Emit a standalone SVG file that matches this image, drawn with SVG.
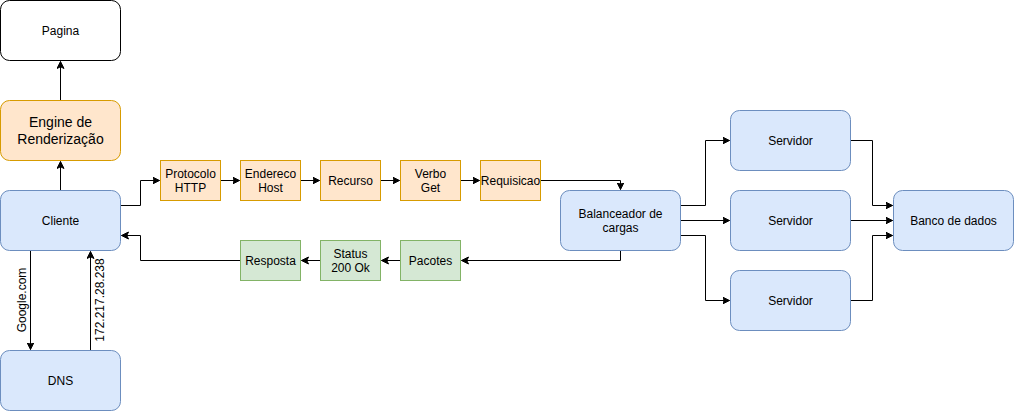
<svg xmlns="http://www.w3.org/2000/svg" width="1014" height="411" viewBox="0 0 1014 411">
<defs>
<marker id="arr" markerWidth="10" markerHeight="10" refX="7" refY="4" orient="auto" markerUnits="userSpaceOnUse">
<path d="M0,0.5 L7,4 L0,7.5 L1.75,4 Z" fill="#000" stroke="#000" stroke-width="1"/>
</marker>
<style>
text{font-family:"Liberation Sans",Arial,sans-serif;font-size:12px;fill:#000;text-anchor:middle;dominant-baseline:central}
.blue{fill:#dae8fc;stroke:#6c8ebf;stroke-width:1}
.orange{fill:#ffe6cc;stroke:#d79b00;stroke-width:1}
.green{fill:#d5e8d4;stroke:#82b366;stroke-width:1}
.white{fill:#fff;stroke:#000;stroke-width:1}
.edge{fill:none;stroke:#000;stroke-width:1;marker-end:url(#arr)}
</style>
</defs>
<rect width="1014" height="411" fill="#fff"/>
<g id="connectors">
<path class="edge" d="M60.5,190.5 L60.5,161.5"/>
<path class="edge" d="M60.5,100.5 L60.5,61.5"/>
<path class="edge" d="M120.5,205.5 L140.5,205.5 L140.5,180.5 L159.5,180.5"/>
<path class="edge" d="M220.5,180.5 L239.5,180.5"/>
<path class="edge" d="M300.5,180.5 L319.5,180.5"/>
<path class="edge" d="M380.5,180.5 L399.5,180.5"/>
<path class="edge" d="M460.5,180.5 L479.5,180.5"/>
<path class="edge" d="M540.5,180.5 L620.5,180.5 L620.5,189.5"/>
<path class="edge" d="M620.5,250.5 L620.5,260.5 L461.5,260.5"/>
<path class="edge" d="M400.5,260.5 L381.5,260.5"/>
<path class="edge" d="M320.5,260.5 L301.5,260.5"/>
<path class="edge" d="M240.5,260.5 L140.5,260.5 L140.5,235.5 L121.5,235.5"/>
<path class="edge" d="M30.5,250.5 L30.5,349.5"/>
<path class="edge" d="M90.5,350.5 L90.5,251.5"/>
<path class="edge" d="M680.5,205.5 L705.5,205.5 L705.5,140.5 L729.5,140.5"/>
<path class="edge" d="M680.5,220.5 L729.5,220.5"/>
<path class="edge" d="M680.5,235.5 L705.5,235.5 L705.5,300.5 L729.5,300.5"/>
<path class="edge" d="M850.5,140.5 L872.5,140.5 L872.5,205.5 L892.5,205.5"/>
<path class="edge" d="M850.5,220.5 L892.5,220.5"/>
<path class="edge" d="M850.5,300.5 L872.5,300.5 L872.5,235.5 L892.5,235.5"/>
<text x="22" y="300" transform="rotate(-90 22 300)">Google.com</text>
<text x="100" y="300" transform="rotate(-90 100 300)">172.217.28.238</text>
</g>
<g id="pagina"><rect class="white" x="0.5" y="0.5" width="120" height="60" rx="9"/><text x="60.5" y="30.5">Pagina</text></g>
<g id="engine"><rect class="orange" x="0.5" y="100.5" width="120" height="60" rx="9"/><text x="60.5" y="122" style="font-size:14px">Engine de</text><text x="60.5" y="139" style="font-size:14px">Renderização</text></g>
<g id="cliente"><rect class="blue" x="0.5" y="190.5" width="120" height="60" rx="9"/><text x="60.5" y="220.5">Cliente</text></g>
<g id="dns"><rect class="blue" x="0.5" y="350.5" width="120" height="60" rx="9"/><text x="60.5" y="380.5">DNS</text></g>
<g id="protocolo"><rect class="orange" x="160.5" y="160.5" width="60" height="40"/><text x="190.5" y="173.5">Protocolo</text><text x="190.5" y="187.5">HTTP</text></g>
<g id="endereco"><rect class="orange" x="240.5" y="160.5" width="60" height="40"/><text x="270.5" y="173.5">Endereco</text><text x="270.5" y="187.5">Host</text></g>
<g id="recurso"><rect class="orange" x="320.5" y="160.5" width="60" height="40"/><text x="350.5" y="180.5">Recurso</text></g>
<g id="verbo"><rect class="orange" x="400.5" y="160.5" width="60" height="40"/><text x="430.5" y="173.5">Verbo</text><text x="430.5" y="187.5">Get</text></g>
<g id="requisicao"><rect class="orange" x="480.5" y="160.5" width="60" height="40"/><text x="510.5" y="180.5">Requisicao</text></g>
<g id="balanceador"><rect class="blue" x="560.5" y="190.5" width="120" height="60" rx="9"/><text x="620.5" y="213.5">Balanceador de</text><text x="620.5" y="227.5">cargas</text></g>
<g id="resposta"><rect class="green" x="240.5" y="240.5" width="60" height="40"/><text x="270.5" y="260.5">Resposta</text></g>
<g id="status"><rect class="green" x="320.5" y="240.5" width="60" height="40"/><text x="350.5" y="253.5">Status</text><text x="350.5" y="267.5">200 Ok</text></g>
<g id="pacotes"><rect class="green" x="400.5" y="240.5" width="60" height="40"/><text x="430.5" y="260.5">Pacotes</text></g>
<g id="servidor1"><rect class="blue" x="730.5" y="110.5" width="120" height="60" rx="9"/><text x="790.5" y="140.5">Servidor</text></g>
<g id="servidor2"><rect class="blue" x="730.5" y="190.5" width="120" height="60" rx="9"/><text x="790.5" y="220.5">Servidor</text></g>
<g id="servidor3"><rect class="blue" x="730.5" y="270.5" width="120" height="60" rx="9"/><text x="790.5" y="300.5">Servidor</text></g>
<g id="banco"><rect class="blue" x="893.5" y="190.5" width="120" height="60" rx="9"/><text x="953.5" y="220.5">Banco de dados</text></g>
</svg>
